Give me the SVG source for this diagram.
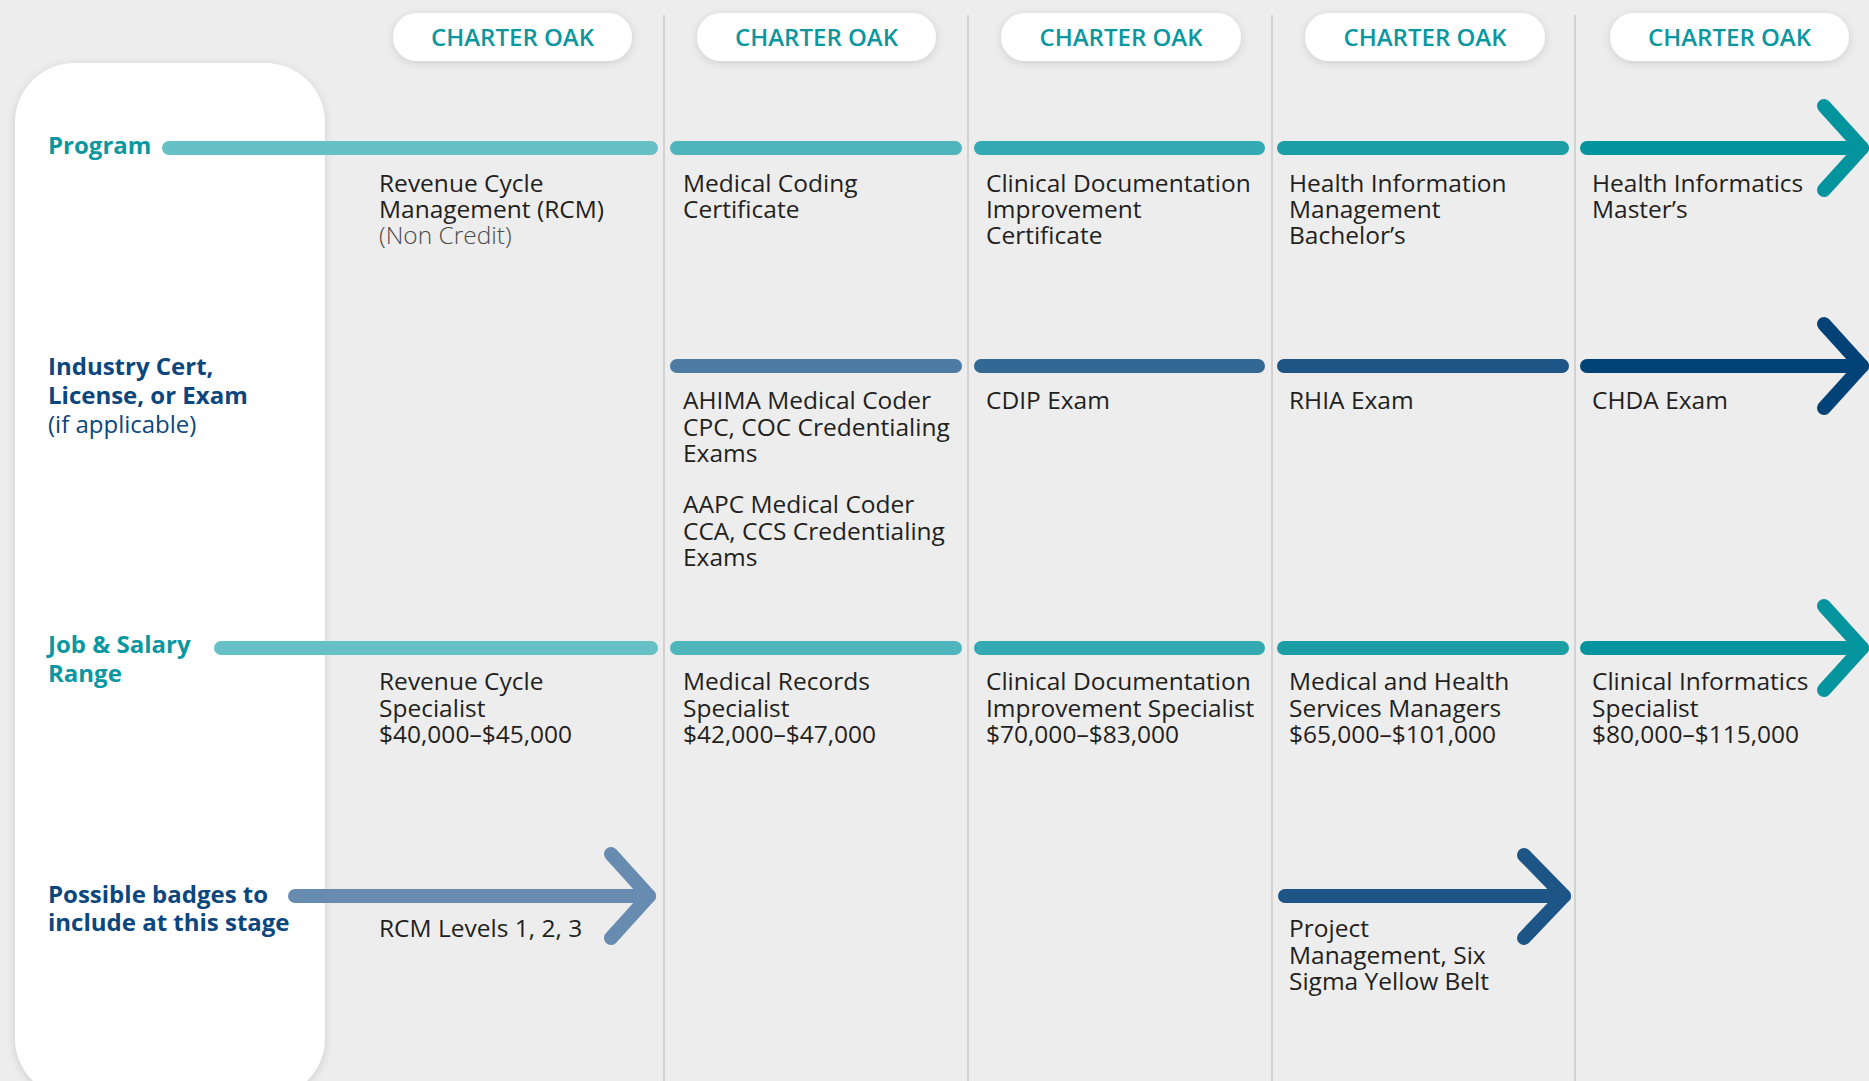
<svg xmlns="http://www.w3.org/2000/svg" width="1869" height="1081" viewBox="0 0 1869 1081">
<defs>
<filter id="sh" x="-20%" y="-20%" width="140%" height="140%">
<feDropShadow dx="0" dy="2" stdDeviation="4" flood-color="#000" flood-opacity="0.14"/>
</filter>
<style>
text{font-family:"Open Sans","Noto Sans","Liberation Sans",sans-serif;}
.pill{fill:#fff;filter:url(#sh);}
.pt{font-size:24px;font-weight:600;fill:#0a979f;text-anchor:middle;}
.t{font-size:24.5px;fill:#231f20;}
.lt{font-size:24.5px;font-weight:300;fill:#4a4a4a;}
.lab{font-size:24px;font-weight:700;}
.teal{fill:#0a979f;}
.navy{fill:#0b467d;}
.div{stroke:#c9c9c9;stroke-width:1.5;}
.chev{fill:none;stroke-width:14;stroke-linecap:round;stroke-linejoin:round;}
</style>
</defs>
<rect width="1869" height="1081" fill="#ededed"/>

<g id="dividers">
<line class="div" x1="664" y1="15" x2="664" y2="1081"/>
<line class="div" x1="968" y1="15" x2="968" y2="1081"/>
<line class="div" x1="1272" y1="15" x2="1272" y2="1081"/>
<line class="div" x1="1575" y1="15" x2="1575" y2="1081"/>
</g>

<g id="label-panel">
<rect x="15" y="63" width="310" height="1035" rx="60" fill="#fff" filter="url(#sh)"/>
<text class="lab teal" x="48" y="154">Program</text>
<text class="lab navy" x="48" y="375">Industry Cert,</text>
<text class="lab navy" x="48" y="404">License, or Exam</text>
<text x="48" y="433" style="font-size:24px;fill:#0b467d">(if applicable)</text>
<text class="lab teal" x="48" y="653">Job &amp; Salary</text>
<text class="lab teal" x="48" y="682">Range</text>
<text class="lab navy" x="48" y="903">Possible badges to</text>
<text class="lab navy" x="48" y="931">include at this stage</text>
</g>

<g id="headers">
<g id="h1"><rect class="pill" x="393" y="13" width="239" height="48" rx="24"/><text class="pt" x="512.5" y="46">CHARTER OAK</text></g>
<g id="h2"><rect class="pill" x="697" y="13" width="239" height="48" rx="24"/><text class="pt" x="816.5" y="46">CHARTER OAK</text></g>
<g id="h3"><rect class="pill" x="1001" y="13" width="240" height="48" rx="24"/><text class="pt" x="1121" y="46">CHARTER OAK</text></g>
<g id="h4"><rect class="pill" x="1305" y="13" width="240" height="48" rx="24"/><text class="pt" x="1425" y="46">CHARTER OAK</text></g>
<g id="h5"><rect class="pill" x="1610" y="13" width="239" height="48" rx="24"/><text class="pt" x="1729.5" y="46">CHARTER OAK</text></g>
</g>

<g id="connectors">
<!-- Program row -->
<rect x="162" y="141" width="496" height="14" rx="7" fill="#67c0c6"/>
<rect x="670" y="141" width="292" height="14" rx="7" fill="#4fb5bd"/>
<rect x="974" y="141" width="291" height="14" rx="7" fill="#33a9b1"/>
<rect x="1277" y="141" width="292" height="14" rx="7" fill="#1c9ea7"/>
<line x1="1587" y1="148" x2="1862" y2="148" stroke="#03949d" stroke-width="14" stroke-linecap="round"/>
<path class="chev" d="M1824,106 L1862,148 L1824,190" stroke="#03949d"/>
<!-- Industry row -->
<rect x="670" y="359" width="292" height="14" rx="7" fill="#4e7ba4"/>
<rect x="974" y="359" width="291" height="14" rx="7" fill="#316894"/>
<rect x="1277" y="359" width="292" height="14" rx="7" fill="#1c5586"/>
<line x1="1587" y1="366" x2="1862" y2="366" stroke="#034277" stroke-width="14" stroke-linecap="round"/>
<path class="chev" d="M1824,324 L1862,366 L1824,408" stroke="#034277"/>
<!-- Job row -->
<rect x="214" y="641" width="444" height="14" rx="7" fill="#67c0c6"/>
<rect x="670" y="641" width="292" height="14" rx="7" fill="#4fb5bd"/>
<rect x="974" y="641" width="291" height="14" rx="7" fill="#33a9b1"/>
<rect x="1277" y="641" width="292" height="14" rx="7" fill="#1c9ea7"/>
<line x1="1587" y1="648" x2="1862" y2="648" stroke="#03949d" stroke-width="14" stroke-linecap="round"/>
<path class="chev" d="M1824,606 L1862,648 L1824,690" stroke="#03949d"/>
<!-- Badges row -->
<line x1="295" y1="896" x2="649" y2="896" stroke="#678cb0" stroke-width="14" stroke-linecap="round"/>
<path class="chev" d="M611,854 L649,896 L611,938" stroke="#678cb0"/>
<line x1="1285" y1="896" x2="1564" y2="896" stroke="#1c5586" stroke-width="14" stroke-linecap="round"/>
<path class="chev" d="M1524,855 L1564,896 L1524,938" stroke="#1c5586"/>
</g>

<g id="program-items">
<g id="p1"><text class="t" x="379" y="192">Revenue Cycle</text><text class="t" x="379" y="218">Management (RCM)</text><text class="lt" x="379" y="244">(Non Credit)</text></g>
<g id="p2"><text class="t" x="683" y="192">Medical Coding</text><text class="t" x="683" y="218">Certificate</text></g>
<g id="p3"><text class="t" x="986" y="192">Clinical Documentation</text><text class="t" x="986" y="218">Improvement</text><text class="t" x="986" y="244">Certificate</text></g>
<g id="p4"><text class="t" x="1289" y="192">Health Information</text><text class="t" x="1289" y="218">Management</text><text class="t" x="1289" y="244">Bachelor’s</text></g>
<g id="p5"><text class="t" x="1592" y="192">Health Informatics</text><text class="t" x="1592" y="218">Master’s</text></g>
</g>

<g id="cert-items">
<g id="c2"><text class="t" x="683" y="409">AHIMA Medical Coder</text><text class="t" x="683" y="436">CPC, COC Credentialing</text><text class="t" x="683" y="462">Exams</text>
<text class="t" x="683" y="513">AAPC Medical Coder</text><text class="t" x="683" y="540">CCA, CCS Credentialing</text><text class="t" x="683" y="566">Exams</text></g>
<g id="c3"><text class="t" x="986" y="409">CDIP Exam</text></g>
<g id="c4"><text class="t" x="1289" y="409">RHIA Exam</text></g>
<g id="c5"><text class="t" x="1592" y="409">CHDA Exam</text></g>
</g>

<g id="job-items">
<g id="j1"><text class="t" x="379" y="690">Revenue Cycle</text><text class="t" x="379" y="717">Specialist</text><text class="t" x="379" y="743">$40,000–$45,000</text></g>
<g id="j2"><text class="t" x="683" y="690">Medical Records</text><text class="t" x="683" y="717">Specialist</text><text class="t" x="683" y="743">$42,000–$47,000</text></g>
<g id="j3"><text class="t" x="986" y="690">Clinical Documentation</text><text class="t" x="986" y="717">Improvement Specialist</text><text class="t" x="986" y="743">$70,000–$83,000</text></g>
<g id="j4"><text class="t" x="1289" y="690">Medical and Health</text><text class="t" x="1289" y="717">Services Managers</text><text class="t" x="1289" y="743">$65,000–$101,000</text></g>
<g id="j5"><text class="t" x="1592" y="690">Clinical Informatics</text><text class="t" x="1592" y="717">Specialist</text><text class="t" x="1592" y="743">$80,000–$115,000</text></g>
</g>

<g id="badge-items">
<g id="b1"><text class="t" x="379" y="937">RCM Levels 1, 2, 3</text></g>
<g id="b4"><text class="t" x="1289" y="937">Project</text><text class="t" x="1289" y="964">Management, Six</text><text class="t" x="1289" y="990">Sigma Yellow Belt</text></g>
</g>
</svg>
